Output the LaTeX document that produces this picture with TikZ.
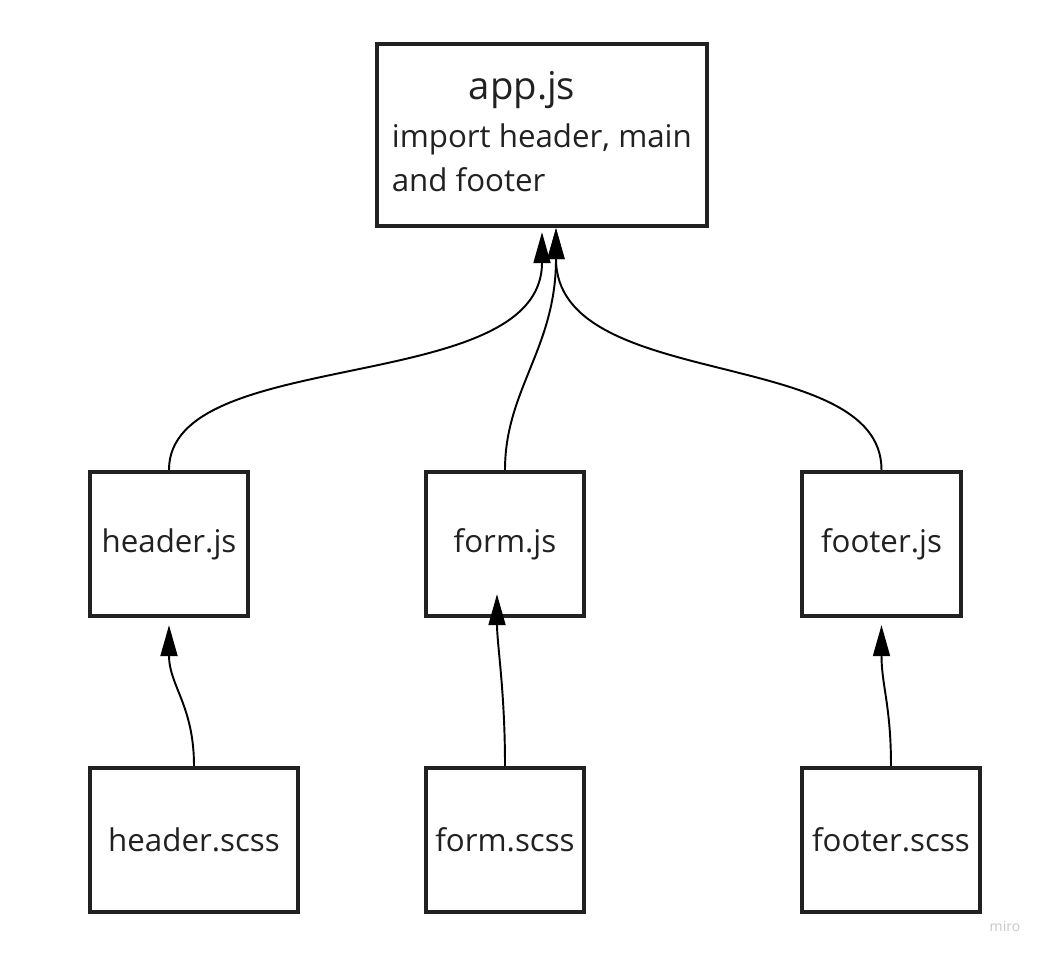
\documentclass[tikz,border=0pt]{standalone}
\usepackage{fontspec}
\setmainfont{Open Sans}
\usetikzlibrary{arrows.meta}
\begin{document}
\begin{tikzpicture}[font=\fontsize{17.8}{21}\selectfont]
  \tikzstyle{file node}=[draw=black!87,line width=2.5pt,inner sep=0pt,text=black!87,minimum height=2.88cm]
  \tikzstyle{link}=[line width=1.1pt,-{Triangle[length=0.62cm,width=0.34cm]}]
  \useasboundingbox (0,0) rectangle (20.92,19.1);
  \node(app)[file node,minimum width=6.6cm,minimum height=3.64cm] at (10.84,16.40){};
  \node(apptitle)[anchor=base,text=black!87,font=\fontsize{21.8}{25}\selectfont] at (10.44,17.10){app.js};
  \node(appnote)[anchor=base west,align=left,inner sep=0pt,text=black!87,font=\fontsize{17.8}{25.6}\selectfont] at (7.83,15.26){import header, main\\and footer};
  \node(hjs)[file node,minimum width=3.16cm] at (3.38,8.22){header.js};
  \node(fjs)[file node,minimum width=3.16cm] at (10.10,8.22){form.js};
  \node(ftjs)[file node,minimum width=3.18cm] at (17.63,8.22){footer.js};
  \node(hscss)[file node,minimum width=4.16cm] at (3.88,2.30){header.scss};
  \node(fscss)[file node,minimum width=3.16cm] at (10.10,2.30){form.scss};
  \node(ftscss)[file node,minimum width=3.56cm] at (17.82,2.30){footer.scss};
  \node(miro)[text=black!22,font=\fontsize{8}{9}\selectfont] at (20.10,0.58){miro};
  % js files into app.js
  \draw[link] (hjs.north) .. controls +(0,2.5) and +(0,-3.3) .. ([yshift=-0.08cm]app.south);
  \draw[link] (fjs.north) .. controls +(0,1.6) and +(0,-2.4) .. ([xshift=0.28cm]app.south);
  \draw[link] (ftjs.north) .. controls +(0,2.5) and +(0,-3.3) .. ([xshift=0.28cm]app.south);
  % scss files into js files
  \draw[link] (hscss.north) .. controls +(0,1.2) and +(0,-1.2) .. ([yshift=-0.14cm]hjs.south);
  \draw[link] (fscss.north) .. controls +(0,1.5) and +(0,-1.0) .. ([xshift=-0.16cm,yshift=0.48cm]fjs.south);
  \draw[link] (ftscss.north) .. controls +(0,1.2) and +(0,-1.2) .. ([yshift=-0.14cm]ftjs.south);
\end{tikzpicture}
\end{document}
